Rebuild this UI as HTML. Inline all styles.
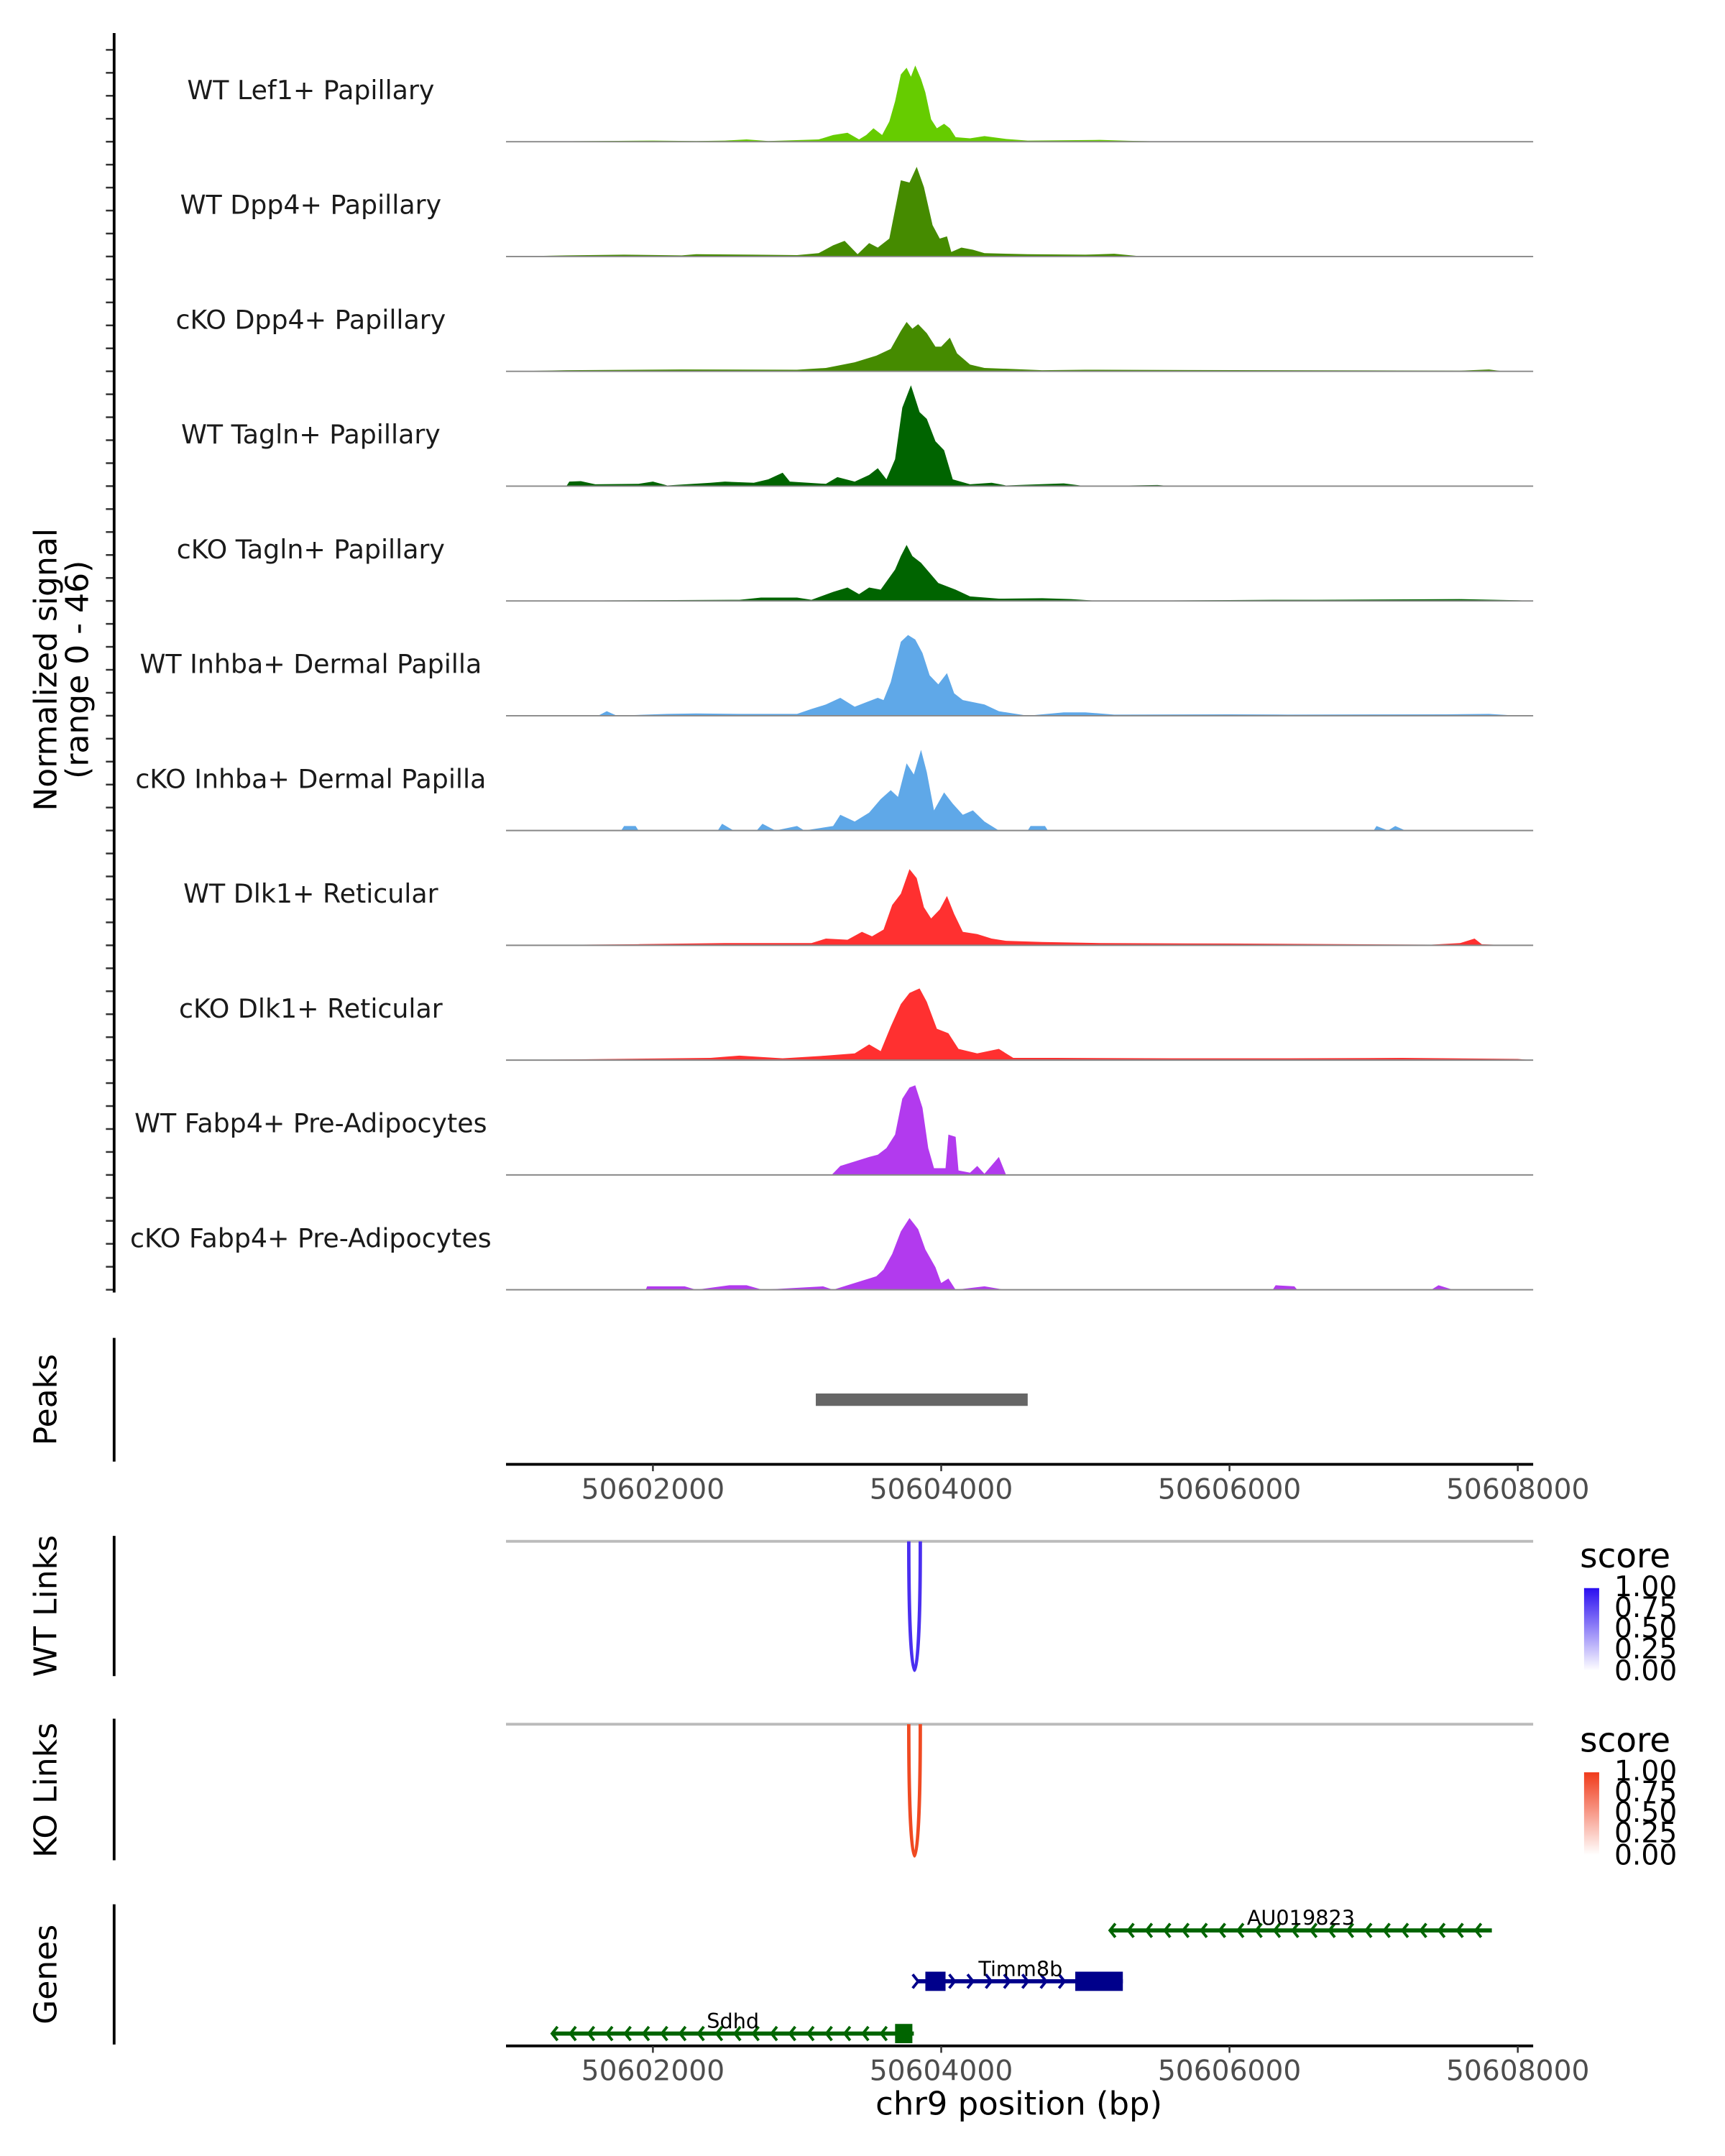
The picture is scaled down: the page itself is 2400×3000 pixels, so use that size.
<!DOCTYPE html>
<html><head><meta charset="utf-8"><style>
html,body{margin:0;padding:0;background:#fff;}
svg{display:block;font-family:"DejaVu Sans","Liberation Sans",sans-serif;}
</style></head><body>
<svg id="chart" width="2400" height="3000" viewBox="0 0 1254.5 1568" xmlns="http://www.w3.org/2000/svg">
<defs>
<linearGradient id="gblue" x1="0" y1="1" x2="0" y2="0"><stop offset="0" stop-color="#ffffff"/><stop offset="1" stop-color="#2a0ef0"/></linearGradient>
<linearGradient id="gred" x1="0" y1="1" x2="0" y2="0"><stop offset="0" stop-color="#ffffff"/><stop offset="1" stop-color="#f03a1a"/></linearGradient>
</defs>
<g id="tracks"></g>
<g id="axes"></g>
<text transform="translate(41,487) rotate(-90)" text-anchor="middle" font-size="23">Normalized signal</text>
<text transform="translate(64,487) rotate(-90)" text-anchor="middle" font-size="23">(range 0 - 46)</text>
<text transform="translate(41,1018) rotate(-90)" text-anchor="middle" font-size="23">Peaks</text>
<text transform="translate(41,1168) rotate(-90)" text-anchor="middle" font-size="23">WT Links</text>
<text transform="translate(41,1302) rotate(-90)" text-anchor="middle" font-size="23">KO Links</text>
<text transform="translate(41,1436) rotate(-90)" text-anchor="middle" font-size="23">Genes</text>
<text x="741" y="1538" text-anchor="middle" font-size="23.5">chr9 position (bp)</text>
<g>
<text x="1149" y="1140" font-size="24.5">score</text>
<rect x="1152" y="1155" width="11" height="60" fill="url(#gblue)"/>
<text x="1174" y="1161" font-size="20.5">1.00</text><text x="1174" y="1176" font-size="20.5">0.75</text><text x="1174" y="1191" font-size="20.5">0.50</text><text x="1174" y="1206" font-size="20.5">0.25</text><text x="1174" y="1222" font-size="20.5">0.00</text>
</g>
<g>
<text x="1149" y="1274" font-size="24.5">score</text>
<rect x="1152" y="1289" width="11" height="60" fill="url(#gred)"/>
<text x="1174" y="1295" font-size="20.5">1.00</text><text x="1174" y="1310" font-size="20.5">0.75</text><text x="1174" y="1325" font-size="20.5">0.50</text><text x="1174" y="1340" font-size="20.5">0.25</text><text x="1174" y="1356" font-size="20.5">0.00</text>
</g>
</svg>
<script>
// positions: offset in bp from chr9:50601000 ; values: normalized signal
const trackNames=["WT Lef1+ Papillary","WT Dpp4+ Papillary","cKO Dpp4+ Papillary","WT Tagln+ Papillary","cKO Tagln+ Papillary","WT Inhba+ Dermal Papilla","cKO Inhba+ Dermal Papilla","WT Dlk1+ Reticular","cKO Dlk1+ Reticular","WT Fabp4+ Pre-Adipocytes","cKO Fabp4+ Pre-Adipocytes"];
const trackColors=["#66cc00","#458b00","#458b00","#006400","#006400","#5fa8e8","#5fa8e8","#ff3030","#ff3030","#b23aee","#b23aee"];
const pos0=[0,600,1000,1300,1500,1650,1800,2150,2250,2350,2430,2480,2530,2590,2640,2680,2720,2760,2790,2820,2860,2890,2930,2970,3020,3060,3100,3200,3300,3450,3600,3800,4100,4300,4600,7100];
const val0=[0,0.3,0.5,0.3,0.5,1,0.3,1,3,4,1,3,6,3,9,18,30,33,29,34,28,22,10,6,8,6,2,1.5,2.5,1.2,0.5,0.6,0.8,0.4,0,0];
const pos1=[0,400,800,1200,1300,1700,2000,2150,2250,2330,2420,2500,2560,2640,2720,2780,2830,2880,2940,2990,3040,3070,3140,3220,3300,3600,4000,4200,4400,7100];
const val1=[0,0.5,0.8,0.5,1,0.8,0.6,1.5,5,7,1,6,4,8,34,33,40,31,14,8,9,2,4,3,1.5,1,0.8,1.2,0,0];
const pos2=[0,400,1200,2000,2200,2400,2550,2650,2720,2760,2800,2840,2900,2960,3000,3060,3110,3200,3300,3500,3700,4000,6600,6800,6900,7100];
const val2=[0,0.5,0.8,0.7,1.5,4,7,10,18,22,19,21,17,11,11,15,8,3,1.5,1,0.5,0.7,0.3,0.8,0,0];
const pos3=[0,400,420,500,600,900,1000,1100,1400,1500,1700,1800,1900,1950,2200,2280,2400,2500,2560,2620,2680,2730,2790,2850,2900,2960,3020,3080,3200,3350,3450,3850,4000,4500,4600,7100];
const val3=[0,0,2,2.2,0.8,1,2,0.3,1.5,2,1.5,3,6,2,1,4,2,5,8,3,12,35,45,33,30,20,16,3,0.8,1.5,0.3,1.2,0,0.5,0,0];
const pos4=[0,1600,1750,2000,2100,2250,2350,2430,2500,2580,2680,2720,2760,2800,2860,2900,2980,3100,3200,3400,3700,3900,4100,5300,5600,6600,7000,7100];
const val4=[0,0.5,1.5,1.5,0.5,4,6,3,6,5,14,20,25,20,17,14,8,5,2,1,1.2,0.8,0,0.5,0.5,0.8,0.3,0];
const pos5=[0,620,680,750,1100,1300,1600,2000,2100,2200,2300,2400,2480,2560,2600,2650,2720,2770,2820,2870,2920,2980,3040,3090,3150,3300,3400,3600,3850,4000,4200,5000,5400,6500,6800,7000,7100];
const val5=[0,0,2,0,0.8,1,0.8,0.8,3,5,8,4,6,8,7,15,33,36,34,28,18,14,19,10,7,5,2,0,1.5,1.5,0.5,0.6,0.5,0.6,0.8,0,0];
const pos6=[0,780,800,880,900,1450,1480,1560,1720,1760,1850,2000,2050,2250,2300,2400,2500,2580,2650,2700,2760,2810,2860,2900,2950,3020,3080,3150,3220,3300,3400,3600,3620,3720,3740,6000,6020,6100,6150,6220,7100];
const val6=[0,0,2,2,0,0,3,0,0,3,0,2,0,2,7,4,8,14,18,15,30,25,36,26,9,17,12,7,9,4,0,0,2,2,0,0,2,0,2,0,0];
const pos7=[0,900,1500,2100,2200,2350,2450,2520,2600,2660,2720,2780,2830,2880,2930,2990,3040,3090,3150,3250,3350,3450,3700,4100,5000,6400,6600,6700,6750,6950,7100];
const val7=[0,0.5,1,1,3,2.5,6,4,7,18,23,34,30,17,12,16,22,14,6,5,3,2,1.5,1,0.8,0.3,1,3,0.5,0,0];
const pos8=[0,1400,1600,1900,2200,2400,2500,2580,2650,2720,2780,2850,2900,2970,3050,3120,3250,3400,3500,3800,4600,5400,6200,7000,7100];
const val8=[0,1,2,0.8,2,3,7,4,15,25,30,32,26,14,12,5,3,5,1,1,0.8,0.8,1,0.5,0];
const pos9=[0,2240,2300,2400,2500,2560,2620,2680,2730,2780,2820,2870,2910,2950,3030,3050,3100,3120,3200,3250,3300,3400,3450,7100];
const val9=[0,0,4,6,8,9,12,18,34,39,40,30,12,3,3,18,17,2,1,4,0.5,8,0,0];
const pos10=[0,950,960,1220,1300,1530,1650,1760,2180,2250,2350,2450,2550,2600,2660,2720,2780,2840,2890,2960,3000,3050,3100,3300,3440,5300,5320,5450,5470,6400,6450,6550,7100];
const val10=[0,0,1.5,1.5,0,2,2,0,1.5,0,2,4,6,9,16,26,32,27,18,10,3,5,0,1.5,0,0,2,1.5,0,0,2,0,0];
const positions=[pos0,pos1,pos2,pos3,pos4,pos5,pos6,pos7,pos8,pos9,pos10];
const values=[val0,val1,val2,val3,val4,val5,val6,val7,val8,val9,val10];
const xTicks=[50602000,50604000,50606000,50608000];
const peakRange=[50603130,50604600];
const wtLink=[50603775,50603855];
const koLink=[50603775,50603855];
const genes=[{name:"AU019823",start:50605170,end:50607820,strand:-1,exons:[],row:0},
{name:"Timm8b",start:50603840,end:50605260,strand:1,exons:[[50603890,50604030],[50604930,50605260]],row:1},
{name:"Sdhd",start:50601300,end:50603810,strand:-1,exons:[[50603680,50603800]],row:2}];

const NS="http://www.w3.org/2000/svg";
const X0=370, PX=0.10483, BASE=50601000;
function xs(bp){return X0+(bp-BASE)*PX;}
function el(tag,attrs,parent){const e=document.createElementNS(NS,tag);for(const k in attrs)e.setAttribute(k,attrs[k]);parent.appendChild(e);return e;}
const svg=document.getElementById('chart');
const tg=document.getElementById('tracks');
const ag=document.getElementById('axes');
const UNIT=1.63;
for(let i=0;i<trackNames.length;i++){
  const b=103+i*83.5;
  const g=el('g',{},tg);
  
  
  let d='M'+xs(BASE+positions[i][0])+','+b;
  for(let j=0;j<positions[i].length;j++){d+=' L'+xs(BASE+positions[i][j]).toFixed(2)+','+(b-values[i][j]*UNIT).toFixed(2);}
  d+=' L'+xs(BASE+positions[i][positions[i].length-1])+','+b+' Z';
  const a=el('path',{d:d,fill:trackColors[i]},g);
  
  
  const bl=el('line',{x1:368,x2:1115,y1:b,y2:b,stroke:'#888',"stroke-width":1},g);
  
  
  const t=el('text',{x:226,y:b-31,"text-anchor":"middle","font-size":"19",fill:"#1a1a1a"},g);
  t.textContent=trackNames[i];
  
  
  for(let k=0;k<5;k++){const y=b-k*16.7;el('line',{x1:77,x2:83,y1:y,y2:y,stroke:'#333',"stroke-width":1.3},ag);}
}
[[24,940],[973,1063],[1117,1219],[1250,1353],[1385,1487]].forEach(r=>{el('line',{x1:83,x2:83,y1:r[0],y2:r[1],stroke:'#000',"stroke-width":2},ag);});
[1065,1488].forEach((y,ai)=>{
  const l=el('line',{x1:368,x2:1115,y1:y,y2:y,stroke:'#000',"stroke-width":2},ag);
  
  
  xTicks.forEach(v=>{
    el('line',{x1:xs(v),x2:xs(v),y1:y,y2:y+5,stroke:'#333',"stroke-width":1.3},ag);
    const t=el('text',{x:xs(v),y:y+25,"text-anchor":"middle","font-size":"20.5",fill:"#4d4d4d"},ag);
    t.textContent=v;
    
    
  });
});
const pk=el('line',{x1:xs(peakRange[0]),x2:xs(peakRange[1]),y1:1018,y2:1018,stroke:'#666',"stroke-width":9},svg);


function link(r,y0,depth,color,name){
  el('line',{x1:368,x2:1115,y1:y0,y2:y0,stroke:'#bbb',"stroke-width":2},svg);
  const x1=xs(r[0]),x2=xs(r[1]);
  const p=el('path',{d:`M${x1},${y0} C${x1},${y0+depth*1.33} ${x2},${y0+depth*1.33} ${x2},${y0}`,fill:'none',stroke:color,"stroke-width":2.5},svg);
  
  
}
link(wtLink,1121,94,'#4a2ff0','wt-link-arc');
link(koLink,1254,96,'#f04a22','ko-link-arc');
const rowY=[1404,1441,1479];
genes.forEach(gn=>{
  const y=rowY[gn.row];
  const col=gn.strand>0?'#00008b':'#006400';
  const g=el('g',{},svg);
  
  
  const x1=xs(gn.start),x2=xs(gn.end);
  el('line',{x1:x1,x2:x2,y1:y,y2:y,stroke:col,"stroke-width":3},g);
  for(let x=x1;x<=x2+0.5;x+=13.3){
    const dx=gn.strand>0?-4:4;
    el('polyline',{points:`${x+dx},${y-5} ${x},${y} ${x+dx},${y+5}`,fill:'none',stroke:col,"stroke-width":2},g);
  }
  gn.exons.forEach(e=>{el('rect',{x:xs(e[0]),y:y-7,width:xs(e[1])-xs(e[0]),height:14,fill:col},g);});
  const t=el('text',{x:(x1+x2)/2,y:y-4,"text-anchor":"middle","font-size":"15",fill:"#000"},g);
  t.textContent=gn.name;
  
  
});
</script>
</body></html>
